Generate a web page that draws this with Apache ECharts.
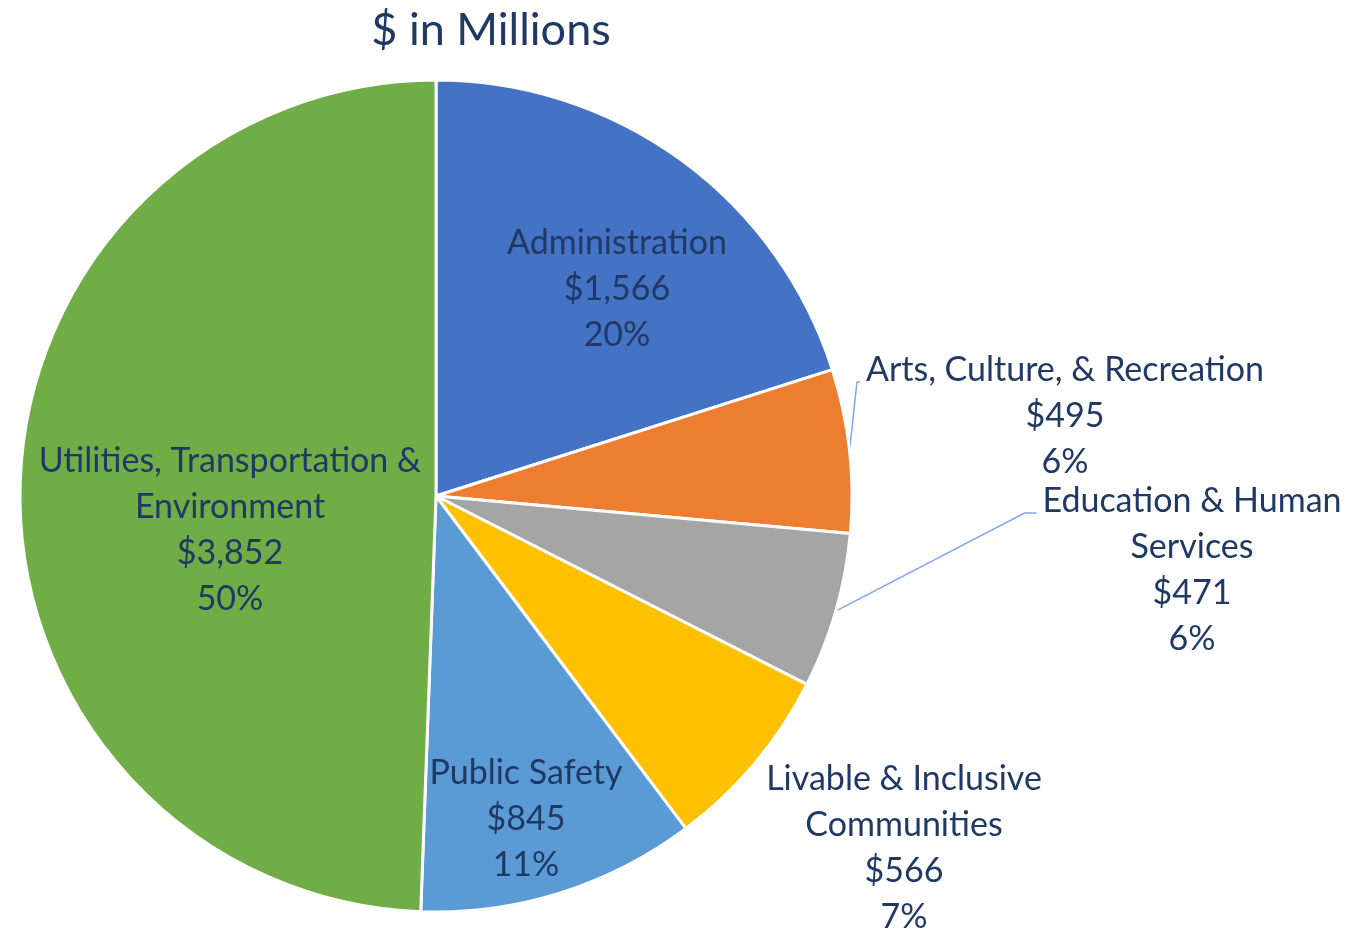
<!DOCTYPE html>
<html>
<head>
<meta charset="utf-8">
<script src="https://cdn.jsdelivr.net/npm/echarts@6/dist/echarts.min.js"></script>
<style>
html,body{margin:0;padding:0;background:#fff;}
#chart{width:1350px;height:932px;}
</style>
</head>
<body>
<div id="chart"></div>
<script>
const categories = ["Administration", "Arts, Culture, & Recreation", "Education & Human\nServices", "Livable & Inclusive\nCommunities", "Public Safety", "Utilities, Transportation &\nEnvironment"];
const values = [1566, 495, 471, 566, 845, 3852];
const percentLabels = ["20%", "6%", "6%", "7%", "11%", "50%"];
const colors = ["#4472C4", "#ED7D31", "#A5A5A5", "#FFC000", "#5B9BD5", "#70AD47"];
const labelInside = [true, false, false, false, true, true];
const showLeader = [false, true, true, false, false, false];
const labelCenters = [[617, 289], [1065, 416], [1192, 570], [904, 848], [526, 819], [230, 530]];

const fmt = v => '$' + v.toLocaleString('en-US');
const data = categories.map((c, i) => ({
  name: c,
  value: values[i],
  itemStyle: { color: colors[i] },
  label: { position: labelInside[i] ? 'inside' : 'outside' },
  labelLine: { show: showLeader[i] }
}));

const chart = echarts.init(document.getElementById('chart'));
chart.setOption({
  animation: false,
  title: {
    text: '$ in Millions',
    left: 486, top: 25, textAlign: 'center', textVerticalAlign: 'middle',
    textStyle: { fontFamily: 'Lato', fontSize: 45, fontWeight: 'normal', color: '#1F3864' }
  },
  series: [{
    type: 'pie',
    center: [436, 496],
    radius: 416,
    startAngle: 90,
    clockwise: true,
    avoidLabelOverlap: false,
    itemStyle: { borderColor: '#fff', borderWidth: 3 },
    label: {
      fontFamily: 'Lato', fontSize: 34, lineHeight: 46, color: '#1F3864',
      align: 'center',
      formatter: p => p.name + '\n' + fmt(p.value) + '\n' + percentLabels[p.dataIndex]
    },
    labelLine: { lineStyle: { color: '#7FA7EE', width: 1.5 }, length: 10, length2: 10 },
    labelLayout: p => {
      const i = p.dataIndex;
      const c = labelCenters[i];
      const res = { x: c[0], y: c[1], align: 'center', verticalAlign: 'middle' };
      if (showLeader[i] && p.labelLinePoints) {
        const w = p.labelRect.width, h = p.labelRect.height;
        const left = c[0] - w / 2, top = c[1] - h / 2;
        const start = p.labelLinePoints[0];
        const ey = top + 35;
        const ex = left - 6;
        res.labelLinePoints = [start, [ex - (i === 2 ? 12 : 3), ey], [ex, ey]];
      }
      return res;
    },
    data: data
  }]
});
</script>
</body>
</html>
